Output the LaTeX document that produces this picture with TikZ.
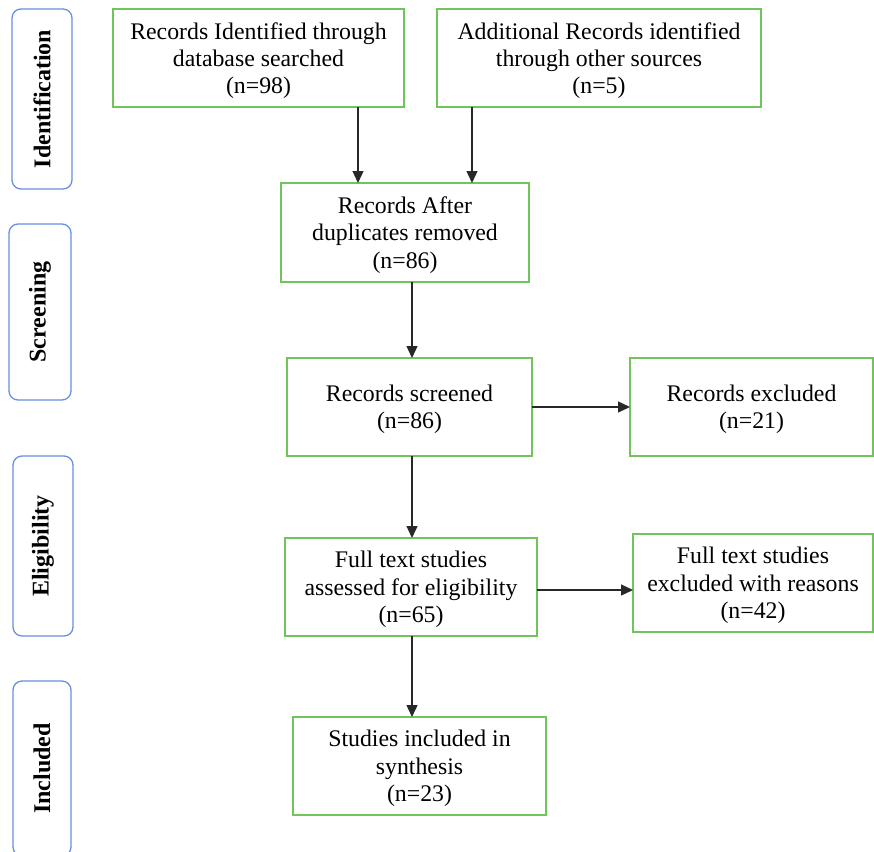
\documentclass[tikz,border=0pt]{standalone}
\usepackage{fontspec}
\setmainfont{Liberation Serif}
\usetikzlibrary{arrows.meta}
\definecolor{boxgreen}{RGB}{112,196,92}
\definecolor{phaseblue}{RGB}{104,142,222}
\definecolor{arrgray}{RGB}{40,40,40}
\tikzset{
  box/.style={draw=boxgreen, line width=1.1pt, rectangle, inner sep=0pt, outer sep=0pt,
    align=center, font=\fontsize{23.8}{27.3}\selectfont, text=black, text depth=0pt},
  phase/.style={draw=phaseblue, line width=1.3pt, rounded corners=9pt, inner sep=0pt, outer sep=0pt,
    rotate=90, font=\bfseries\fontsize{24}{27}\selectfont, text=black},
  arr/.style={draw=arrgray, line width=1.3pt, -{Triangle[length=12pt,width=11pt]}}
}
\begin{document}
\begin{tikzpicture}[x=1pt,y=-1pt]
\useasboundingbox (0,0) rectangle (874,851);
% phase labels
\node[phase, minimum width=180pt, minimum height=60pt] (p1) at (42,99) {Identification};
\node[phase, minimum width=176pt, minimum height=62pt] (p2) at (40,312) {Screening};
\node[phase, minimum width=180pt, minimum height=60pt] (p3) at (43,546) {Eligibility};
\node[phase, minimum width=175pt, minimum height=58pt] (p4) at (42,768.5) {Included};
% boxes
\node[box, minimum width=291pt, minimum height=98pt] (b1) at (258.5,58) {Records Identified through\\database searched\\(n=98)};
\node[box, minimum width=324pt, minimum height=98pt] (b2) at (599,58) {Additional Records identified\\through other sources\\(n=5)};
\node[box, minimum width=248pt, minimum height=99pt] (b3) at (405,232.5) {Records After\\duplicates removed\\(n=86)};
\node[box, minimum width=245pt, minimum height=98pt] (b4) at (409.5,407) {Records screened\\(n=86)};
\node[box, minimum width=243pt, minimum height=98pt] (b5) at (751.5,407) {Records excluded\\(n=21)};
\node[box, minimum width=252pt, minimum height=98pt] (b6) at (411,587) {Full text studies\\assessed for eligibility\\(n=65)};
\node[box, minimum width=240pt, minimum height=98pt] (b7) at (753,583) {Full text studies\\excluded with reasons\\(n=42)};
\node[box, minimum width=253pt, minimum height=98pt] (b8) at (419.5,766) {Studies included in\\synthesis\\(n=23)};
% arrow guide coordinates
\coordinate (c1) at (358,0);
\coordinate (c2) at (472,0);
\coordinate (c3) at (412,0);
\coordinate (r6) at (0,590);
% connectors
\draw[arr] (b1.south -| c1) -- (b3.north -| c1);
\draw[arr] (b2.south -| c2) -- (b3.north -| c2);
\draw[arr] (b3.south -| c3) -- (b4.north -| c3);
\draw[arr] (b4.east) -- (b5.west);
\draw[arr] (b4.south -| c3) -- (b6.north -| c3);
\draw[arr] (b6.east |- r6) -- (b7.west |- r6);
\draw[arr] (b6.south -| c3) -- (b8.north -| c3);
\end{tikzpicture}
\end{document}
